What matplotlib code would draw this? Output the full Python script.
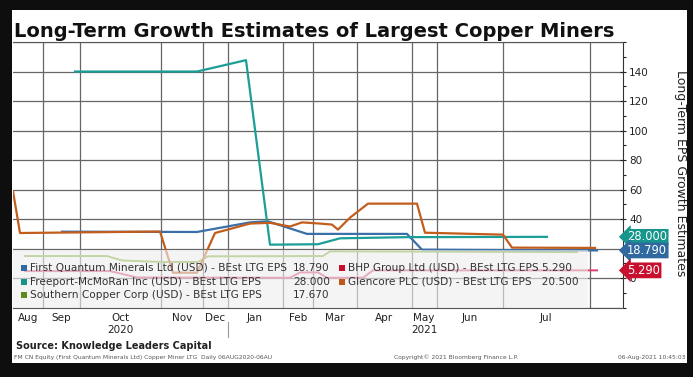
import matplotlib
matplotlib.use("Agg")
import matplotlib.pyplot as plt
from matplotlib.patches import Rectangle
from matplotlib.ticker import FixedLocator, MultipleLocator, NullFormatter
from matplotlib.transforms import blended_transform_factory

# chart position along the (irregular) Bloomberg time axis
month_edges = [43, 80, 161, 203, 228, 283, 313, 357, 412, 437, 503, 590]
month_centers = [28, 61, 120, 182, 215, 255, 298, 335, 384, 424, 470, 546]
month_labels = ['Aug', 'Sep', 'Oct', 'Nov', 'Dec', 'Jan', 'Feb', 'Mar', 'Apr', 'May', 'Jun', 'Jul']
year_labels = [(120, '2020'), (424, '2021')]
year_split = 228

fq_pos = [62, 197, 250, 268, 307, 407, 422, 597]
fq_val = [31.5, 31.3, 37.8, 38.5, 30.0, 30.0, 19.3, 18.79]

fcx_pos = [75, 197, 246, 270, 318, 340, 407, 547]
fcx_val = [140.0, 140.0, 147.7, 22.7, 23.0, 27.0, 27.8, 28.0]

scco_pos = [25, 107, 122, 160, 198, 208, 323, 330, 577]
scco_val = [15.0, 15.0, 12.0, 11.0, 11.0, 14.8, 15.0, 18.2, 17.67]

bhp_pos = [25, 110, 137, 290, 300, 318, 327, 363, 373, 597]
bhp_val = [4.8, 4.8, 0.5, 0.3, 3.9, 3.9, 0.3, 0.3, 5.3, 5.29]

glen_pos = [13, 20, 160, 173, 197, 215, 250, 270, 290, 302, 320, 332, 338, 350,
            368, 417, 425, 503, 512, 595]
glen_val = [58.9, 30.6, 31.6, 3.7, 3.7, 30.6, 37.0, 37.5, 35.0, 37.8, 37.0, 36.3, 32.9, 41.0,
            50.5, 50.5, 30.8, 29.5, 20.7, 20.5]

W, H = 693, 377


def fx(px):
    return px / W


def fy(py):
    return 1 - py / H


fig = plt.figure(figsize=(W / 100, H / 100), dpi=100, facecolor='#0e0e0e')
fig.patches.append(Rectangle((fx(12), fy(363)), (687 - 12) / W, (363 - 10) / H,
                             transform=fig.transFigure, facecolor='white', edgecolor='none',
                             zorder=-5))

ax = fig.add_axes([fx(13), fy(307.7), (623 - 13) / W, (307.7 - 42) / H])
ax.set_xlim(13, 623)
ax.set_ylim(-20, 160)

teal = '#1c9e98'
blue = '#3a6fa8'
green = '#7fae2e'
pink = '#d8406a'
orange = '#c25d1c'

ax.plot(scco_pos, scco_val, color=green, lw=1.4, zorder=3)
ax.plot(bhp_pos, bhp_val, color=pink, lw=1.4, zorder=3)
ax.plot(fq_pos, fq_val, color=blue, lw=1.6, zorder=3)
ax.plot(fcx_pos, fcx_val, color=teal, lw=1.6, zorder=3)
ax.plot(glen_pos, glen_val, color=orange, lw=1.6, zorder=3)

# grid
ax.xaxis.set_major_locator(FixedLocator(month_edges))
ax.xaxis.set_major_formatter(NullFormatter())
ax.xaxis.set_minor_locator(FixedLocator(month_centers))
ax.set_xticklabels(month_labels, minor=True)
ax.tick_params(axis='x', which='both', length=0, labelsize=7.5, pad=4, colors='#222222')

ax.yaxis.tick_right()
ax.yaxis.set_major_locator(FixedLocator(list(range(0, 141, 20))))
ax.yaxis.set_minor_locator(MultipleLocator(10))
ax.tick_params(axis='y', which='major', direction='inout', length=5, width=0.8,
               labelsize=7.5, pad=2, colors='#222222')
ax.tick_params(axis='y', which='minor', direction='out', length=2.5, width=0.8, colors='#222222')
ax.grid(True, which='major', color='#666666', lw=0.9, zorder=1)
ax.set_axisbelow(True)
for yv in (-20, 160):
    ax.axhline(yv, color='#666666', lw=0.9, zorder=1)

ax.spines['left'].set_visible(False)
ax.spines['top'].set_color('#555555')
ax.spines['bottom'].set_color('#555555')
ax.spines['right'].set_color('#333333')

# year labels under the month labels
bt = blended_transform_factory(ax.transData, fig.transFigure)
for xp, lab in year_labels:
    ax.text(xp, fy(330), lab, transform=bt, ha='center', va='center', fontsize=7.5,
            color='#222222', clip_on=False)
ax.plot([year_split, year_split], [fy(322), fy(337)], transform=bt, color='#999999',
        lw=0.8, clip_on=False)

# semi-transparent legend panel
ax.add_patch(Rectangle((fx(13), fy(307.7)), (588 - 13) / W, (307.7 - 250) / H,
                       transform=fig.transFigure, facecolor='#eeeeee', edgecolor='none',
                       alpha=0.62, zorder=4))

legend_rows = [
    (268, 24, '#2f6aa3', 'First Quantum Minerals Ltd (USD) - BEst LTG EPS', '18.790'),
    (282, 24, '#17938a', 'Freeport-McMoRan Inc (USD) - BEst LTG EPS', '28.000'),
    (295, 24, '#5e8a1e', 'Southern Copper Corp (USD) - BEst LTG EPS', '17.670'),
    (268, 342, '#c8102e', 'BHP Group Ltd (USD) - BEst LTG EPS 5.290', ''),
    (282, 342, '#c0561a', 'Glencore PLC (USD) - BEst LTG EPS   20.500', ''),
]
for py, px, col, lab, val in legend_rows:
    fig.patches.append(Rectangle((fx(px - 3), fy(py + 3)), 6 / W, 6 / H,
                                 transform=fig.transFigure, facecolor=col, edgecolor='none',
                                 zorder=5))
    fig.text(fx(px + 6), fy(py), lab, fontsize=7.6, color='#333333', va='center', ha='left',
             zorder=5)
    if val:
        fig.text(fx(293), fy(py), val, fontsize=7.6, color='#333333', va='center', ha='left',
                 zorder=5)

# last-value tags on the right axis
yt = ax.get_yaxis_transform()
for vals, col in [(fcx_val, '#16968c'), (fq_val, '#2f69a0'), (bhp_val, '#c8102e')]:
    last = vals[-1]
    ax.annotate(f'{last:.3f}', xy=(1, last), xycoords=yt, xytext=(3, 0),
                textcoords='offset points', ha='left', va='center', fontsize=8.3, color='white',
                bbox=dict(boxstyle='larrow,pad=0.12', facecolor=col, edgecolor='none'),
                zorder=10, annotation_clip=False)

fig.text(fx(680), fy(173), 'Long-Term EPS Growth Estimates', rotation=-90, ha='center',
         va='center', fontsize=9, color='#222222')

fig.text(fx(14), fy(37), 'Long-Term Growth Estimates of Largest Copper Miners',
         fontsize=14, fontweight='bold', color='#111111', va='baseline', ha='left')

fig.text(fx(16), fy(346), 'Source: Knowledge Leaders Capital', fontsize=7, fontweight='bold',
         color='#222222', va='center', ha='left')
fig.text(fx(14), fy(357), 'FM CN Equity (First Quantum Minerals Ltd) Copper Miner LTG  Daily 06AUG2020-06AU',
         fontsize=4.3, color='#555555', va='center', ha='left')
fig.text(fx(456), fy(357), 'Copyright\u00a9 2021 Bloomberg Finance L.P.', fontsize=4.3,
         color='#555555', va='center', ha='center')
fig.text(fx(685), fy(357), '06-Aug-2021 10:45:03', fontsize=4.3, color='#555555',
         va='center', ha='right')

fig.savefig('out.png', dpi=100, facecolor=fig.get_facecolor())
